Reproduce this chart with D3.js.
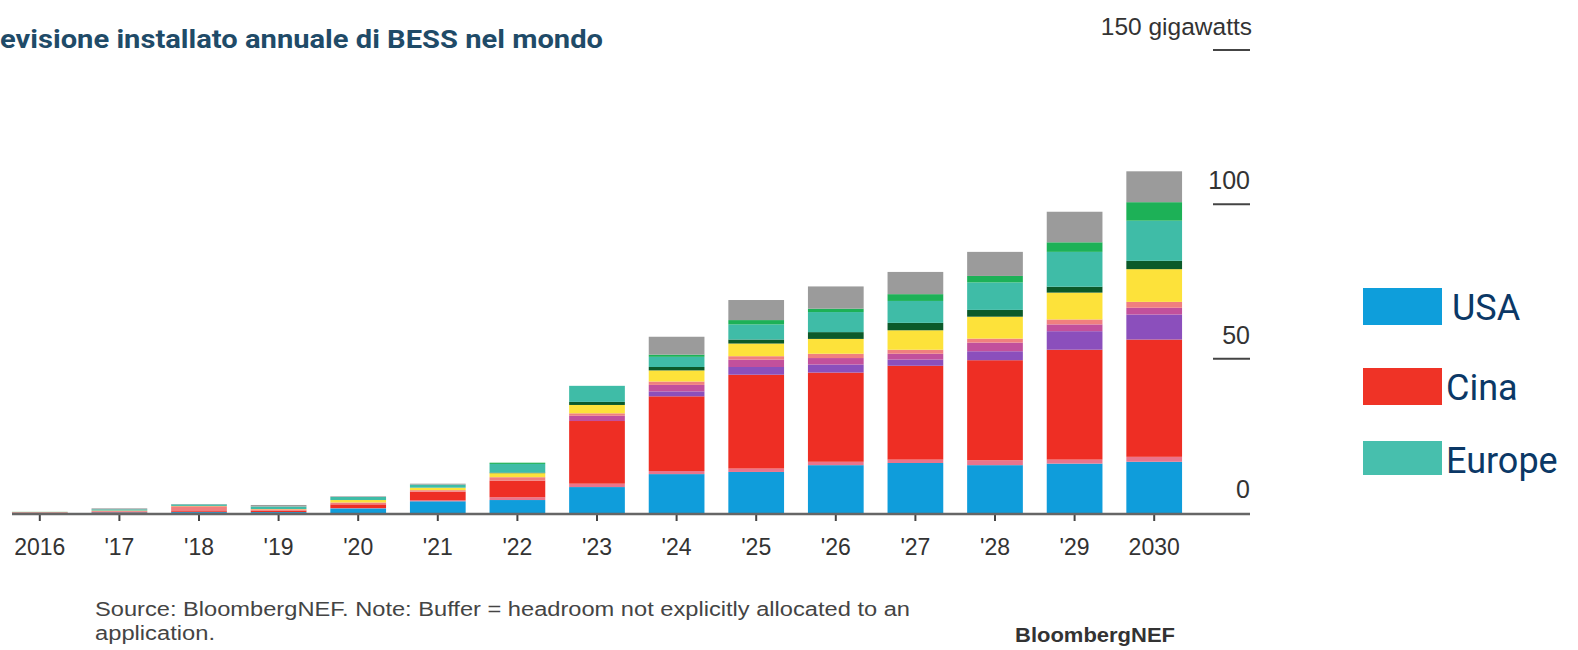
<!DOCTYPE html>
<html>
<head>
<meta charset="utf-8">
<script src="https://cdnjs.cloudflare.com/ajax/libs/d3/7.8.5/d3.min.js"></script>
<style>
    body { margin: 0; background: #fff; overflow: hidden; }
    svg { display: block; }
</style>
</head>
<body>
<svg id="chart"></svg>
<script>
// years on the x axis
const years = ['2016', "'17", "'18", "'19", "'20", "'21", "'22", "'23", "'24", "'25", "'26", "'27", "'28", "'29", '2030'];

// gigawatts per market, bottom to top
const usa       = [0.1, 0.2, 0.3, 0.3, 1.5, 3.8, 4.2, 8.4, 12.6, 13.3, 15.5, 16.2, 15.5, 16.0, 16.6];
const canada    = [0, 0, 0, 0, 0.1, 0.3, 0.9, 1.1, 1.0, 1.1, 1.1, 1.1, 1.6, 1.3, 1.6];
const cina      = [0.1, 0.2, 0.3, 0.5, 1.2, 2.8, 5.4, 20.3, 24.2, 30.4, 28.9, 30.4, 32.4, 35.6, 38.0];
const india     = [0, 0, 0, 0, 0, 0, 0, 0, 1.6, 2.5, 2.6, 2.0, 2.9, 6.0, 8.1];
const giappone  = [0, 0, 0, 0, 0, 0, 0, 1.7, 2.1, 2.4, 2.1, 1.9, 2.8, 2.2, 2.2];
const corea     = [0.1, 0.3, 1.6, 0.4, 0.6, 0.5, 1.1, 0.8, 1.1, 1.1, 1.4, 1.3, 1.3, 1.6, 1.9];
const australia = [0.05, 0.1, 0.1, 0.1, 0.8, 0.8, 1.3, 2.7, 3.6, 4.1, 4.8, 6.3, 7.1, 8.7, 10.6];
const medioOr   = [0, 0, 0, 0, 0, 0, 0.2, 1.0, 1.1, 1.3, 2.2, 2.4, 2.2, 1.9, 2.7];
const europe    = [0.05, 0.4, 0.5, 0.8, 1.0, 1.0, 2.8, 5.2, 3.3, 4.9, 6.5, 7.1, 8.9, 11.3, 13.0];
const altri     = [0, 0, 0, 0, 0, 0, 0.4, 0, 0.7, 1.4, 1.1, 2.2, 2.1, 3.1, 6.0];
const buffer    = [0, 0.3, 0.1, 0.5, 0.2, 0.3, 0, 0, 5.8, 6.5, 7.2, 7.2, 7.8, 9.9, 10.0];

const yTicks = [0, 50, 100];
const legendItems = ['USA', 'Cina', 'Europe'];

drawChart();

function drawChart() {
    const width = 1578;
    const height = 650;

    const seriesKeys = ['usa', 'canada', 'cina', 'india', 'giappone', 'corea', 'australia', 'medioOr', 'europe', 'altri', 'buffer'];
    const seriesData = { usa, canada, cina, india, giappone, corea, australia, medioOr, europe, altri, buffer };
    const colors = {
        usa: '#0f9ddb', canada: '#e9748c', cina: '#ee2e24', india: '#8b4fbc', giappone: '#c2509c',
        corea: '#f07f7f', australia: '#fde23a', medioOr: '#0b5a2a', europe: '#3fbca7', altri: '#1db157', buffer: '#9b9b9b'
    };

    const rows = years.map((y, i) => {
        const r = { year: y };
        seriesKeys.forEach(k => r[k] = seriesData[k][i]);
        return r;
    });

    const stacked = d3.stack().keys(seriesKeys)(rows);

    let svg = d3.select('#chart')
        .attr('width', width)
        .attr('height', height)
        .style('font-family', "'Liberation Sans', Arial, sans-serif");

    const x = d3.scaleBand()
        .domain(years)
        .range([0, 1194])
        .paddingInner(0.3)
        .paddingOuter(0.15);

    const y = d3.scaleLinear()
        .domain([0, 150])
        .range([513, 50]);

    // title (cut on the left as in the source image)
    svg.append('text')
        .attr('x', 0)
        .attr('y', 48)
        .attr('textLength', 603)
        .attr('lengthAdjust', 'spacingAndGlyphs')
        .style('font-family', 'Roboto, sans-serif')
        .style('font-weight', 'bold')
        .style('font-size', '26.5px')
        .attr('fill', '#1f4b68')
        .text('evisione installato annuale di BESS nel mondo');

    // bars
    svg.append('g')
        .selectAll('g')
        .data(stacked)
        .join('g')
        .attr('fill', d => colors[d.key])
        .selectAll('rect')
        .data(d => d)
        .join('rect')
        .attr('x', d => x(d.data.year))
        .attr('width', x.bandwidth())
        .attr('y', d => y(d[1]))
        .attr('height', d => y(d[0]) - y(d[1]));

    // x axis
    const xAxis = svg.append('g')
        .attr('transform', 'translate(0,514)')
        .call(d3.axisBottom(x).tickSize(7).tickPadding(18));
    xAxis.select('.domain').remove();
    xAxis.selectAll('.tick line').attr('stroke', '#444').attr('stroke-width', 2);
    xAxis.selectAll('.tick text')
        .style('font-family', "'Liberation Sans', Arial, sans-serif")
        .style('font-size', '23px')
        .attr('fill', '#333');

    svg.append('line')
        .attr('x1', 12).attr('x2', 1250)
        .attr('y1', 514).attr('y2', 514)
        .attr('stroke', '#666')
        .attr('stroke-width', 2.5);

    // y axis labels on the right with short underlines
    const yg = svg.append('g');
    yg.selectAll('text.tick')
        .data(yTicks)
        .join('text')
        .attr('class', 'tick')
        .attr('x', 1250)
        .attr('y', d => y(d) - 15)
        .attr('text-anchor', 'end')
        .style('font-size', '25px')
        .attr('fill', '#333')
        .text(d => d);
    yg.selectAll('line')
        .data(yTicks.filter(d => d > 0).concat([150]))
        .join('line')
        .attr('x1', 1213).attr('x2', 1250)
        .attr('y1', d => y(d)).attr('y2', d => y(d))
        .attr('stroke', '#444')
        .attr('stroke-width', 2);
    yg.append('text')
        .attr('x', 1252)
        .attr('y', y(150) - 15)
        .attr('text-anchor', 'end')
        .style('font-size', '24.5px')
        .attr('fill', '#333')
        .text('150 gigawatts');

    // legend
    const legend = svg.append('g');
    const legY = [288, 368, 441];
    const legH = [37, 37, 34];
    const legColors = ['#0e9edb', '#ef3326', '#47bfad'];
    legend.selectAll('rect')
        .data(legendItems)
        .join('rect')
        .attr('x', 1363)
        .attr('y', (d, i) => legY[i])
        .attr('width', 79)
        .attr('height', (d, i) => legH[i])
        .attr('fill', (d, i) => legColors[i]);
    legend.selectAll('text')
        .data(legendItems)
        .join('text')
        .attr('x', (d, i) => i === 0 ? 1452 : 1446)
        .attr('y', (d, i) => legY[i] + 32)
        .style('font-family', 'Roboto, sans-serif')
        .style('font-size', '36px')
        .attr('fill', '#0b3866')
        .text(d => d);

    // footer
    svg.append('text')
        .attr('x', 95).attr('y', 616)
        .attr('textLength', 815)
        .attr('lengthAdjust', 'spacingAndGlyphs')
        .style('font-size', '20px')
        .attr('fill', '#444')
        .text('Source: BloombergNEF. Note: Buffer = headroom not explicitly allocated to an');
    svg.append('text')
        .attr('x', 95).attr('y', 640)
        .attr('textLength', 120)
        .attr('lengthAdjust', 'spacingAndGlyphs')
        .style('font-size', '20px')
        .attr('fill', '#444')
        .text('application.');
    svg.append('text')
        .attr('x', 1015).attr('y', 642)
        .attr('textLength', 160)
        .attr('lengthAdjust', 'spacingAndGlyphs')
        .style('font-size', '20px')
        .style('font-weight', 'bold')
        .attr('fill', '#333')
        .text('BloombergNEF');
}
</script>
</body>
</html>
